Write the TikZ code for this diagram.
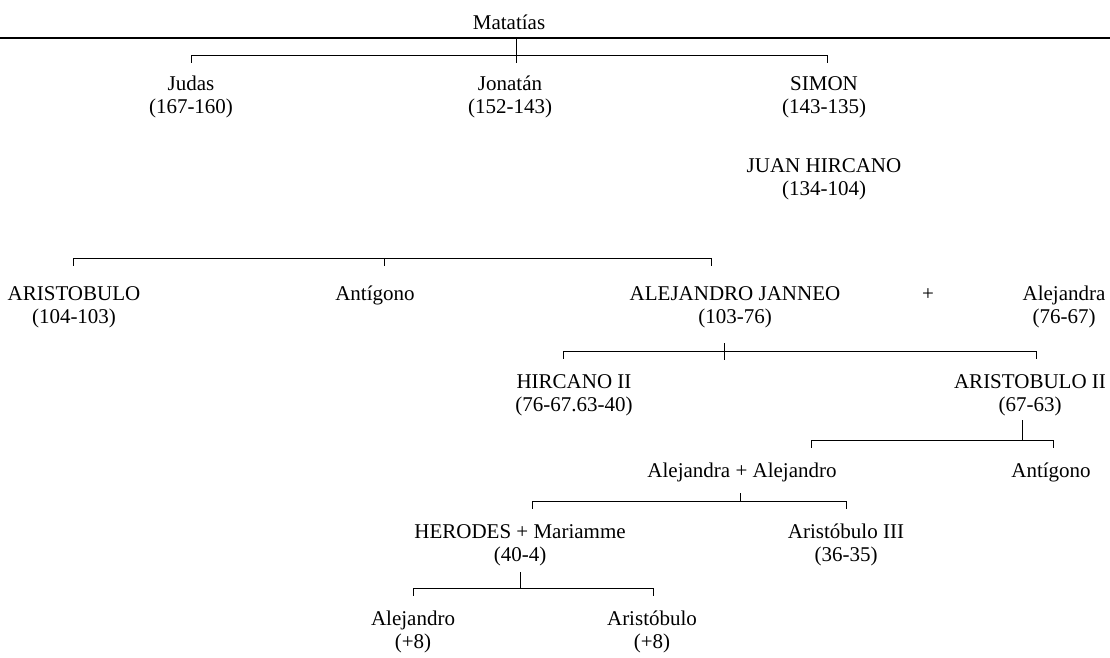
\documentclass[tikz,border=0pt]{standalone}
\usepackage{fontspec}
\setmainfont{Liberation Serif}
\tikzset{
  lbl/.style={anchor=base, inner sep=0pt, align=center, font=\fontsize{21}{23}\selectfont},
  lbltwo/.style={lbl, yshift=-23pt},
  ln/.style={line width=0.9pt, line cap=butt},
  rulestyle/.style={line width=2pt}
}
\begin{document}
\begin{tikzpicture}[x=1pt,y=-1pt]
\fill[white] (0,0) rectangle (1110,657);
\useasboundingbox (0,0) rectangle (1110,657);

% people (coordinates give the baseline of the first line)
\node[lbl]    (mat)     at (509,29)  {Matatías};
\node[lbltwo] (judas)   at (191,90)  {Judas\\(167-160)};
\node[lbltwo] (jon)     at (510,90)  {Jonatán\\(152-143)};
\node[lbltwo] (simon)   at (824,90)  {SIMON\\(143-135)};
\node[lbltwo] (juan)    at (824,172) {JUAN HIRCANO\\(134-104)};
\node[lbltwo] (arist)   at (74,300)  {ARISTOBULO\\(104-103)};
\node[lbl]    (anti1)   at (375,300) {Antígono};
\node[lbltwo] (janneo)  at (735,300) {ALEJANDRO JANNEO\\(103-76)};
\node[lbl]    (plus1)   at (928,300) {+};
\node[lbltwo] (aleja)   at (1064,300) {Alejandra\\(76-67)};
\node[lbltwo] (hirc2)   at (574,388) {HIRCANO II\\(76-67.63-40)};
\node[lbltwo] (arist2)  at (1030,388) {ARISTOBULO II\\(67-63)};
\node[lbl]    (aa)      at (742,477) {Alejandra + Alejandro};
\node[lbl]    (anti2)   at (1051,477) {Antígono};
\node[lbltwo] (herodes) at (520,538) {HERODES + Mariamme\\(40-4)};
\node[lbltwo] (arist3)  at (846,538) {Aristóbulo III\\(36-35)};
\node[lbltwo] (alej)    at (413,625) {Alejandro\\(+8)};
\node[lbltwo] (arist4)  at (652,625) {Aristóbulo\\(+8)};

% junction coordinates
\coordinate (r0) at (0,38);     \coordinate (r1) at (1110,38);
\coordinate (m0) at (516,38);   \coordinate (m1) at (516,63);
\coordinate (b1l) at (191,55);  \coordinate (b1r) at (827,55);

\coordinate (b2l) at (73,258);  \coordinate (b2m) at (384,258); \coordinate (b2r) at (711,258);

\coordinate (b3l) at (563,351); \coordinate (b3r) at (1036,351);
\coordinate (c3t) at (724,343); \coordinate (c3b) at (724,360);

\coordinate (s4t) at (1022,420); \coordinate (b4s) at (1022,440);
\coordinate (b4l) at (811,440);  \coordinate (b4r) at (1053,440);

\coordinate (s5t) at (740,493); \coordinate (b5s) at (740,501);
\coordinate (b5l) at (532,501); \coordinate (b5r) at (846,501);

\coordinate (s6t) at (520,572); \coordinate (b6s) at (520,588);
\coordinate (b6l) at (413,588); \coordinate (b6r) at (653,588);

% rule
\draw[rulestyle] (r0) -- (r1);

% Matatias
\draw[ln] (m0) -- (m1);
\draw[ln] (b1l) -- (b1r);
\draw[ln] (b1l) -- ++(0,8);
\draw[ln] (b1r) -- ++(0,8);

% children of Juan Hircano
\draw[ln] (b2l) -- (b2r);
\draw[ln] (b2l) -- ++(0,8);
\draw[ln] (b2m) -- ++(0,8);
\draw[ln] (b2r) -- ++(0,8);

% children of Alejandro Janneo
\draw[ln] (b3l) -- (b3r);
\draw[ln] (b3l) -- ++(0,8);
\draw[ln] (b3r) -- ++(0,8);
\draw[ln] (c3t) -- (c3b);

% children of Aristobulo II
\draw[ln] (s4t) -- (b4s);
\draw[ln] (b4l) -- (b4r);
\draw[ln] (b4l) -- ++(0,8);
\draw[ln] (b4r) -- ++(0,8);

% children of Alejandra + Alejandro
\draw[ln] (s5t) -- (b5s);
\draw[ln] (b5l) -- (b5r);
\draw[ln] (b5l) -- ++(0,8);
\draw[ln] (b5r) -- ++(0,8);

% children of Herodes
\draw[ln] (s6t) -- (b6s);
\draw[ln] (b6l) -- (b6r);
\draw[ln] (b6l) -- ++(0,8);
\draw[ln] (b6r) -- ++(0,8);
\end{tikzpicture}
\end{document}
